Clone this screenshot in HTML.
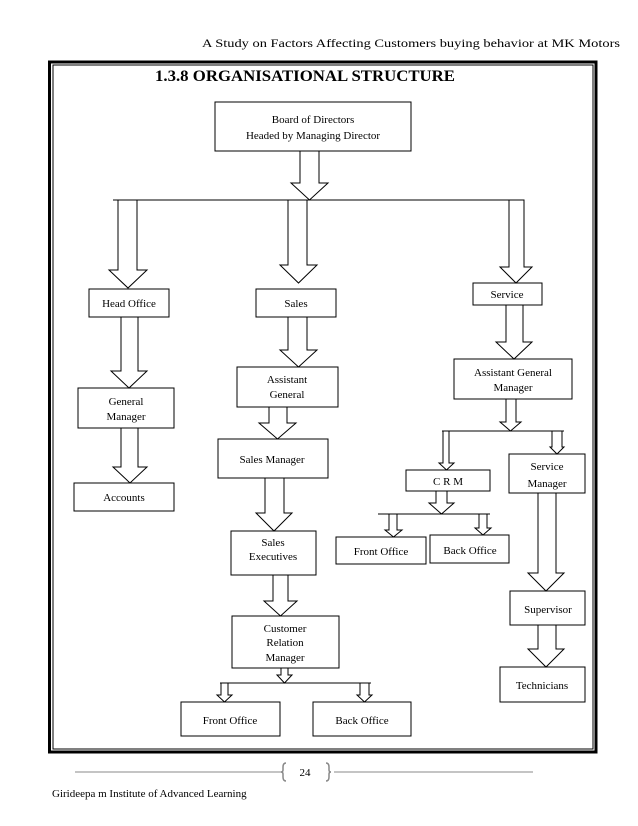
<!DOCTYPE html>
<html><head><meta charset="utf-8"><style>
html,body{margin:0;padding:0;background:#fff;}
svg{display:block;}
text{font-family:"Liberation Serif",serif;fill:#000;}
</style></head><body>
<svg width="638" height="826" viewBox="0 0 638 826" xmlns="http://www.w3.org/2000/svg">
<text x="620" y="47" font-size="11.5" text-anchor="end" textLength="418" lengthAdjust="spacingAndGlyphs">A Study on Factors Affecting  Customers  buying  behavior  at MK Motors</text>
<rect x="49.5" y="62" width="546.5" height="690" fill="none" stroke="#000" stroke-width="3"/>
<rect x="53" y="65" width="540" height="684" fill="none" stroke="#000" stroke-width="1"/>
<text x="305" y="81" font-size="16" font-weight="bold" text-anchor="middle" textLength="300" lengthAdjust="spacingAndGlyphs">1.3.8 ORGANISATIONAL  STRUCTURE</text>
<g fill="#fff" stroke="#000" stroke-width="1">
<rect x="215" y="102" width="196" height="49"/>
<rect x="89" y="289" width="80" height="28"/>
<rect x="256" y="289" width="80" height="28"/>
<rect x="473" y="283" width="69" height="22"/>
<rect x="78" y="388" width="96" height="40"/>
<rect x="74" y="483" width="100" height="28"/>
<rect x="237" y="367" width="101" height="40"/>
<rect x="218" y="439" width="110" height="39"/>
<rect x="231" y="531" width="85" height="44"/>
<rect x="232" y="616" width="107" height="52"/>
<rect x="181" y="702" width="99" height="34"/>
<rect x="313" y="702" width="98" height="34"/>
<rect x="454" y="359" width="118" height="40"/>
<rect x="406" y="470" width="84" height="21"/>
<rect x="509" y="454" width="76" height="39"/>
<rect x="336" y="537" width="90" height="27"/>
<rect x="430" y="535" width="79" height="28"/>
<rect x="510" y="591" width="75" height="34"/>
<rect x="500" y="667" width="85" height="35"/>
</g>
<g fill="none" stroke="#000" stroke-width="1">
<line x1="113" y1="200" x2="524" y2="200"/>
<line x1="220" y1="683" x2="371" y2="683"/>
<line x1="442" y1="431" x2="564" y2="431"/>
<line x1="378" y1="514" x2="490" y2="514"/>
</g>
<g fill="#fff" stroke="#000" stroke-width="1">
<polygon points="300,151 300,183 291,183 309.5,200 328,183 319,183 319,151"/>
<polygon points="118,200 118,270 109,270 128,288 147,270 137,270 137,200"/>
<polygon points="288,200 288,265 280,265 298.5,283 317,265 307,265 307,200"/>
<polygon points="509,200 509,267 500,267 516,283 532,267 524,267 524,200"/>
<polygon points="121,317 121,371 111,371 129,388 147,371 138,371 138,317"/>
<polygon points="121,428 121,467 113,467 130,483 147,467 138,467 138,428"/>
<polygon points="288,317 288,350 280,350 298.5,367 317,350 307,350 307,317"/>
<polygon points="269,407 269,423 259,423 277.5,439 296,423 287,423 287,407"/>
<polygon points="265,478 265,513 256,513 274,531 292,513 284,513 284,478"/>
<polygon points="273,575 273,601 264,601 280.5,616 297,601 288,601 288,575"/>
<polygon points="281,668 281,675 277,675 284.5,683 292,675 288,675 288,668"/>
<polygon points="221,683 221,695 217,695 224.5,702 232,695 228,695 228,683"/>
<polygon points="360,683 360,695 357,695 364.5,702 372,695 369,695 369,683"/>
<polygon points="506,305 506,342 496,342 514,359 532,342 523,342 523,305"/>
<polygon points="506,399 506,422 500,422 510.5,431 521,422 516,422 516,399"/>
<polygon points="443,431 443,463 439,463 446.5,470 454,463 449,463 449,431"/>
<polygon points="552,431 552,447 550,447 557,454 564,447 562,447 562,431"/>
<polygon points="436,491 436,503 429,503 441.5,514 454,503 447,503 447,491"/>
<polygon points="389,514 389,530 385,530 393.5,537 402,530 397,530 397,514"/>
<polygon points="479,514 479,528 475,528 483,535 491,528 487,528 487,514"/>
<polygon points="538,493 538,573 528,573 546,591 564,573 556,573 556,493"/>
<polygon points="538,625 538,649 528,649 546,667 564,649 556,649 556,625"/>
</g>
<g font-size="11" text-anchor="middle">
<text x="313" y="123">Board of Directors</text>
<text x="313" y="139">Headed by Managing  Director</text>
<text x="129" y="307">Head  Office</text>
<text x="296" y="307">Sales</text>
<text x="507" y="298">Service</text>
<text x="126" y="405">General</text>
<text x="126" y="420">Manager</text>
<text x="124" y="501">Accounts</text>
<text x="287" y="383">Assistant</text>
<text x="287" y="398">General</text>
<text x="272" y="463">Sales Manager</text>
<text x="273" y="546">Sales</text>
<text x="273" y="560">Executives</text>
<text x="285" y="632">Customer</text>
<text x="285" y="646">Relation</text>
<text x="285" y="661">Manager</text>
<text x="230" y="724">Front  Office</text>
<text x="362" y="724">Back Office</text>
<text x="513" y="376">Assistant  General</text>
<text x="513" y="391">Manager</text>
<text x="448" y="485">C R M</text>
<text x="547" y="470">Service</text>
<text x="547" y="487">Manager</text>
<text x="381" y="555">Front  Office</text>
<text x="470" y="554">Back Office</text>
<text x="548" y="613">Supervisor</text>
<text x="542" y="689">Technicians</text>
</g>
<line x1="75" y1="772" x2="282" y2="772" stroke="#888" stroke-width="1"/>
<line x1="334" y1="772" x2="533" y2="772" stroke="#888" stroke-width="1"/>
<path d="M286,763 q-3,0 -3,4 v3 q0,2 -2,2 q2,0 2,2 v3 q0,4 3,4" fill="none" stroke="#888" stroke-width="1.5"/>
<path d="M326,763 q3,0 3,4 v3 q0,2 2,2 q-2,0 -2,2 v3 q0,4 -3,4" fill="none" stroke="#888" stroke-width="1.5"/>
<text x="305" y="776" font-size="11" text-anchor="middle">24</text>
<text x="52" y="797" font-size="11">Girideepa m  Institute  of Advanced  Learning</text>
</svg>
</body></html>
